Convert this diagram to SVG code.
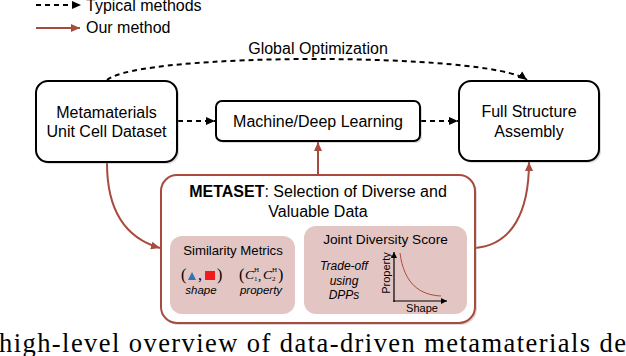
<svg xmlns="http://www.w3.org/2000/svg" width="626" height="356" viewBox="0 0 626 356">
<style>
.t{font-family:"Liberation Sans",Arial,sans-serif;fill:#000}
.box{fill:#fff;stroke:#000;stroke-width:2}
.shadow{fill:#999;opacity:0.35}
.red{stroke:#a84b3f;stroke-width:2;fill:none}
.dash{stroke:#000;stroke-width:2;fill:none;stroke-dasharray:5 4}
.sub{fill:#e3c6c4}
.serif{font-family:"Liberation Serif","DejaVu Serif",serif;fill:#000}
</style>
<defs>
<marker id="ab" markerUnits="userSpaceOnUse" markerWidth="10" markerHeight="10" refX="9" refY="5" orient="auto">
<path d="M0,1 L9,5 L0,9 Z" fill="#000"/>
</marker>
<marker id="ar" markerUnits="userSpaceOnUse" markerWidth="10" markerHeight="10" refX="9" refY="5" orient="auto">
<path d="M0,1 L9,5 L0,9 Z" fill="#a84b3f"/>
</marker>
<marker id="ak" markerUnits="userSpaceOnUse" markerWidth="8" markerHeight="8" refX="6" refY="4" orient="auto">
<path d="M0,1 L6,4 L0,7 Z" fill="#000"/>
</marker>
</defs>
<rect width="626" height="356" fill="#fff"/>

<g id="legend">
<line x1="36" y1="5" x2="81" y2="5" class="dash" marker-end="url(#ab)"/>
<text class="t" x="86" y="11" font-size="16">Typical methods</text>
<line x1="36" y1="28" x2="80" y2="28" class="red" marker-end="url(#ar)"/>
<text class="t" x="86" y="33" font-size="16">Our method</text>
</g>

<g id="connectors">
<path d="M107,80 C140,52 490,52 527,80" class="dash" marker-end="url(#ab)"/>
<text class="t" x="318" y="54" font-size="16" text-anchor="middle">Global Optimization</text>
<line x1="178" y1="121" x2="215" y2="121" class="dash" marker-end="url(#ab)"/>
<line x1="421" y1="121" x2="458" y2="121" class="dash" marker-end="url(#ab)"/>
<line x1="318" y1="175" x2="318" y2="142" class="red" marker-end="url(#ar)"/>
<path d="M107,163 C107,210 125,238 160,248" class="red" marker-end="url(#ar)"/>
<path d="M475,248 C512,245 529,212 529,162" class="red" marker-end="url(#ar)"/>
</g>

<g id="dataset">
<rect x="38" y="83" width="141" height="81" rx="12" class="shadow"/>
<rect x="36" y="81" width="141" height="81" rx="12" class="box"/>
<text class="t" x="106.5" y="118" font-size="16" text-anchor="middle">Metamaterials</text>
<text class="t" x="106.5" y="137" font-size="16" text-anchor="middle">Unit Cell Dataset</text>
</g>

<g id="ml">
<rect x="218" y="103" width="204" height="40" rx="6" class="shadow"/>
<rect x="216" y="101" width="204" height="40" rx="6" class="box"/>
<text class="t" x="318" y="127" font-size="16" text-anchor="middle">Machine/Deep Learning</text>
</g>

<g id="assembly">
<rect x="461" y="83" width="140" height="80" rx="12" class="shadow"/>
<rect x="459" y="81" width="140" height="80" rx="12" class="box"/>
<text class="t" x="529" y="117" font-size="16" text-anchor="middle">Full Structure</text>
<text class="t" x="529" y="137" font-size="16" text-anchor="middle">Assembly</text>
</g>

<g id="metaset">
<rect x="163" y="177" width="314" height="148" rx="16" class="shadow"/>
<rect x="161" y="175" width="314" height="148" rx="16" fill="#fff" stroke="#a84b3f" stroke-width="2"/>
<text class="t" x="318" y="197" font-size="16" text-anchor="middle"><tspan font-weight="bold">METASET</tspan>: Selection of Diverse and</text>
<text class="t" x="318" y="217" font-size="16" text-anchor="middle">Valuable Data</text>
</g>

<g id="similarity">
<rect x="170" y="236" width="125" height="78" rx="12" class="sub"/>
<text class="t" x="233" y="255" font-size="13.2" text-anchor="middle">Similarity Metrics</text>
<text class="serif" x="181" y="280" font-size="16">(</text>
<path d="M188,280 L192,272 L196,280 Z" fill="#2e72b8"/>
<text class="serif" x="198" y="280" font-size="16">,</text>
<rect x="205" y="271" width="10" height="9" fill="#ee1c1c"/>
<text class="serif" x="217" y="280" font-size="16">)</text>
<text class="t" x="201" y="294" font-size="11.5" font-style="italic" text-anchor="middle">shape</text>
<text class="serif" x="239" y="280" font-size="16">(</text>
<text class="serif" x="245" y="279" font-size="13.5" font-style="italic">C</text>
<text class="serif" x="254" y="272" font-size="7">H</text>
<text class="serif" x="254" y="281" font-size="7">1</text>
<text class="serif" x="258" y="280" font-size="13">,</text>
<text class="serif" x="263" y="279" font-size="13.5" font-style="italic">C</text>
<text class="serif" x="272" y="272" font-size="7">H</text>
<text class="serif" x="272" y="281" font-size="7">2</text>
<text class="serif" x="278" y="280" font-size="16">)</text>
<text class="t" x="261" y="294" font-size="11.5" font-style="italic" text-anchor="middle">property</text>
</g>

<g id="diversity">
<rect x="304" y="226" width="163" height="88" rx="12" class="sub"/>
<text class="t" x="385.5" y="244" font-size="13.7" text-anchor="middle">Joint Diversity Score</text>
<text class="t" x="344" y="270" font-size="12" font-style="italic" text-anchor="middle">Trade-off</text>
<text class="t" x="344" y="285" font-size="12" font-style="italic" text-anchor="middle">using</text>
<text class="t" x="344" y="299" font-size="12" font-style="italic" text-anchor="middle">DPPs</text>
<line x1="394" y1="302" x2="394" y2="252" stroke="#000" stroke-width="1.2" marker-end="url(#ak)"/>
<line x1="393" y1="301" x2="447" y2="301" stroke="#000" stroke-width="1.2" marker-end="url(#ak)"/>
<path d="M400,253 C404,284 420,295 441,296" stroke="#a84b3f" stroke-width="1" fill="none"/>
<text class="t" transform="translate(390,273) rotate(-90)" font-size="11" text-anchor="middle">Property</text>
<text class="t" x="422" y="312" font-size="11" text-anchor="middle">Shape</text>
</g>

<text class="serif" x="-1" y="352" font-size="26.5" textLength="627" lengthAdjust="spacing">high-level overview of data-driven metamaterials de</text>
</svg>
